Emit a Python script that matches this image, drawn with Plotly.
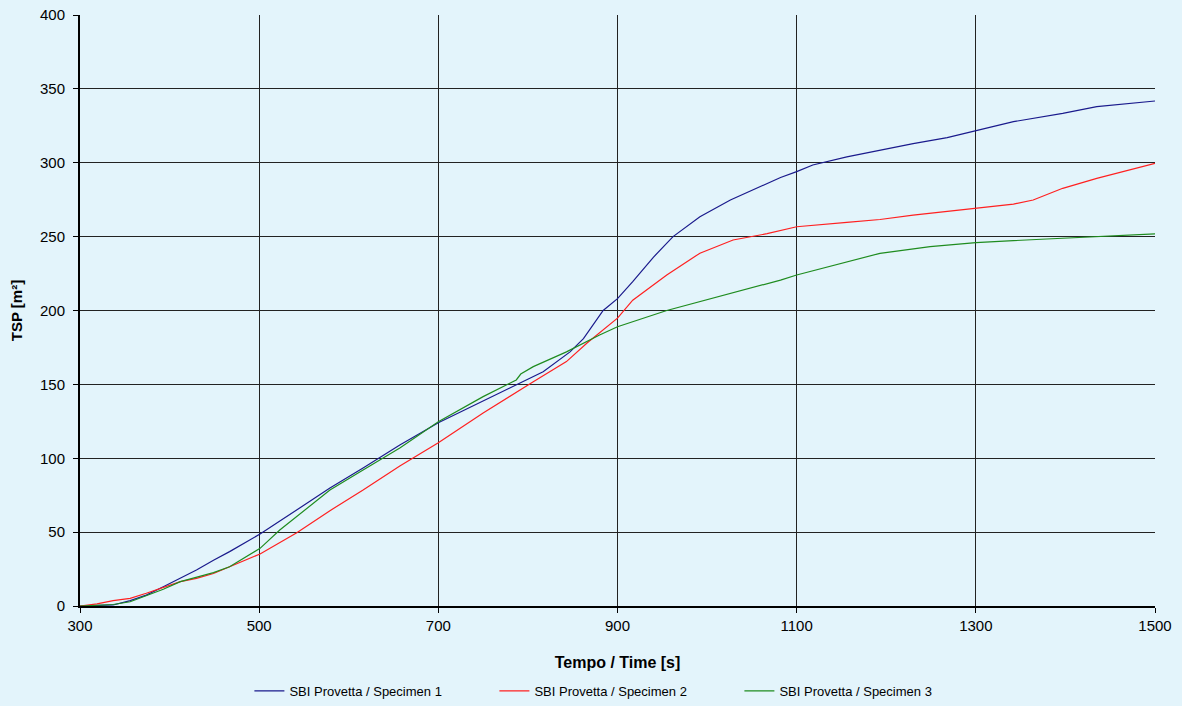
import plotly.graph_objects as go

# Specimen 1 (blue)
t1 = [300, 337, 356, 374, 393, 412, 430, 449, 467, 501, 542, 579, 616, 657, 700, 750, 787, 817,
      847, 862, 884, 900, 917, 940, 962, 992, 1026, 1082, 1100, 1118, 1156, 1193, 1230, 1268,
      1300, 1342, 1397, 1435, 1500]
v1 = [0, 0.7, 3.6, 7.4, 13, 18.8, 24.4, 31, 36.8, 48.7, 65, 79.8, 93.4, 109, 124, 139, 149.6, 158.6,
      172, 181, 200, 208, 219.5, 236, 250, 263.5, 274.8, 290, 294, 298.5, 304, 308.6, 313, 317,
      321.5, 327.8, 333.4, 338, 341.8]

# Specimen 2 (red)
t2 = [300, 319, 337, 356, 374, 393, 412, 430, 449, 467, 501, 542, 579, 616, 657, 700, 750, 806,
      843, 866, 888, 900, 917, 955, 992, 1029, 1067, 1100, 1156, 1193, 1230, 1300, 1342, 1364,
      1397, 1435, 1500]
v2 = [0, 1.4, 3.6, 5.2, 8.6, 12.6, 16.5, 18.7, 22, 26.6, 35.2, 49.6, 64.5, 78.5, 94.8, 110.5, 130.6, 151.8,
      165.4, 178, 189, 194.8, 207, 224, 238.8, 247.7, 252, 256.7, 259.6, 261.6, 264.6, 269, 272, 274.8,
      282.7, 289.4, 299.6]

# Specimen 3 (green)
t3 = [300, 337, 356, 374, 393, 412, 430, 449, 467, 501, 523, 542, 579, 616, 657, 700, 750, 787,
      792, 806, 843, 880, 900, 955, 1029, 1082, 1100, 1137, 1193, 1249, 1300, 1379, 1453, 1500]
v3 = [0, 1, 2.9, 6.8, 11.3, 16.5, 19.4, 22.6, 26.6, 39, 51.4, 60.4, 78.5, 92, 107, 124.7, 141.7, 153,
      157, 162, 172, 183.4, 189, 200, 211.8, 220.6, 224, 229.7, 238.7, 243.2, 246, 248.4, 250.4, 251.8]

names = ["SBI Provetta / Specimen 1", "SBI Provetta / Specimen 2", "SBI Provetta / Specimen 3"]
colors = ["#1a1a8c", "#ff2020", "#1f8c1f"]

bg = "#e3f4fb"
fig = go.Figure()
for t, v, n, c in zip([t1, t2, t3], [v1, v2, v3], names, colors):
    fig.add_trace(go.Scatter(x=t, y=v, mode="lines", name=n,
                             line=dict(color=c, width=1.2)))

fig.update_layout(
    width=1182, height=706,
    paper_bgcolor=bg, plot_bgcolor=bg,
    margin=dict(l=80, r=27, t=15, b=100, autoexpand=False),
    font=dict(family="Liberation Sans, Arial, sans-serif", color="black"),
    showlegend=True,
    legend=dict(orientation="h", xref="container", yref="container",
                x=0.211, xanchor="left", y=0.0, yanchor="bottom",
                font=dict(size=13), bgcolor="rgba(0,0,0,0)", itemwidth=30,
                tracegroupgap=0, entrywidth=200, entrywidthmode="pixels"),
)
fig.update_xaxes(range=[300, 1500], tickvals=[300, 500, 700, 900, 1100, 1300, 1500],
                 showgrid=True, gridcolor="#222222", gridwidth=1,
                 showline=True, linecolor="black", linewidth=2,
                 ticks="outside", ticklen=5, tickcolor="black", automargin=False,
                 tickfont=dict(size=15), zeroline=False,
                 title=dict(text="<b>Tempo / Time [s]</b>", font=dict(size=16), standoff=24))
fig.update_yaxes(range=[0, 400], tickvals=list(range(0, 401, 50)),
                 showgrid=True, gridcolor="#222222", gridwidth=1,
                 showline=True, linecolor="black", linewidth=2,
                 ticks="outside", ticklen=5, tickcolor="black", automargin=False,
                 tickfont=dict(size=15), zeroline=False, ticklabelstandoff=5,
                 title=dict(text="<b>TSP [m²]</b>", font=dict(size=15), standoff=14))

fig.write_html("out.html")
